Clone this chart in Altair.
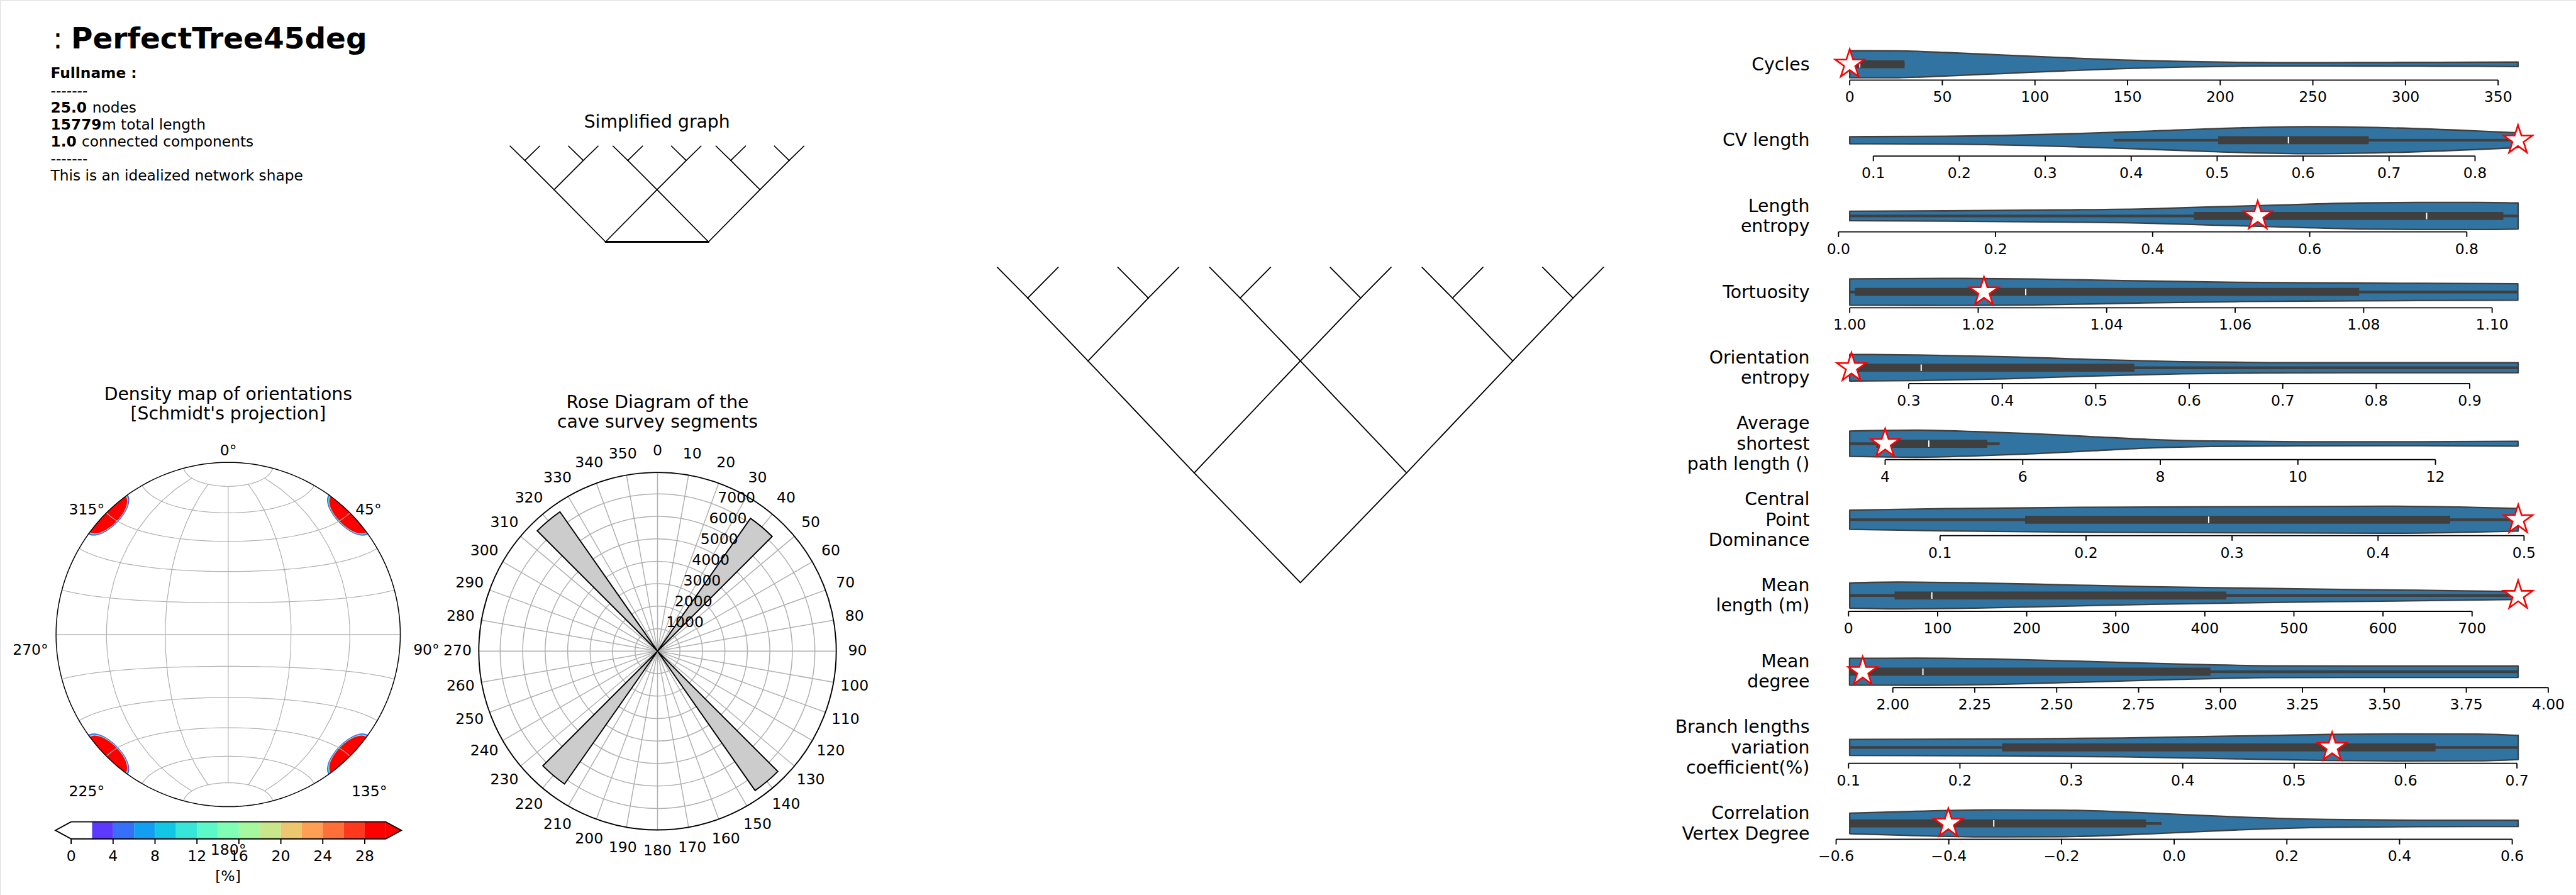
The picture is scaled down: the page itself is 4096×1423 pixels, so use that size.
import math
import altair as alt
import pandas as pd

FONT = "DejaVu Sans"
W, H = 4096, 1423

# ====================== values ======================
TITLE_PREFIX = ":"
TITLE_NAME = "PerfectTree45deg"
INFO_FULLNAME = "Fullname :"
INFO_SEPARATOR = "-------"
INFO_NODES = "25.0"
INFO_NODES_UNIT = "nodes"
INFO_LENGTH = "15779"
INFO_LENGTH_UNIT = "m total length"
INFO_COMPONENTS = "1.0"
INFO_COMPONENTS_UNIT = "connected components"
INFO_DESCRIPTION = "This is an idealized network shape"
SIMPLIFIED_TITLE = "Simplified graph"
DENSITY_TITLE = ["Density map of orientations", "[Schmidt's projection]"]
ROSE_TITLE = ["Rose Diagram of the", "cave survey segments"]

# network layout (node coordinates of the drawn graph)
NODE_ID = ["R", "A1", "A2", "B1", "B2", "B3",
           "C1", "C2", "C3", "C4", "C5", "C6",
           "L1", "L2", "L3", "L4", "L5", "L6", "L7", "L8", "L9", "L10", "L11", "L12"]
NODE_X = [0, -296, 296, -592, 0, 592,
          -760, -424, -168, 168, 424, 760,
          -845, -675, -509, -339, -253, -83, 83, 253, 339, 509, 675, 845]
NODE_Y = [0, 306, 306, 618, 618, 618,
          793, 793, 793, 793, 793, 793,
          879, 879, 879, 879, 879, 879, 879, 879, 879, 879, 879, 879]
EDGES = [("R", "A1"), ("R", "A2"),
         ("A1", "B1"), ("A1", "B2"), ("A2", "B2"), ("A2", "B3"),
         ("B1", "C1"), ("B1", "C2"), ("B2", "C3"), ("B2", "C4"), ("B3", "C5"), ("B3", "C6"),
         ("C1", "L1"), ("C1", "L2"), ("C2", "L3"), ("C2", "L4"), ("C3", "L5"), ("C3", "L6"),
         ("C4", "L7"), ("C4", "L8"), ("C5", "L9"), ("C5", "L10"), ("C6", "L11"), ("C6", "L12")]
SIMPLIFIED_BRIDGE = [("A1", "A2")]

# rose diagram
ROSE_BIN_FROM = [35, 135, 215, 315]
ROSE_BIN_TO = [45, 145, 225, 325]
ROSE_LENGTH = [7215, 7570, 7215, 7570]
ROSE_RMAX = 7954
ROSE_RINGS = [1000, 2000, 3000, 4000, 5000, 6000, 7000]
ROSE_ANGLES = [0, 10, 20, 30, 40, 50, 60, 70, 80, 90, 100, 110, 120, 130, 140, 150, 160, 170,
               180, 190, 200, 210, 220, 230, 240, 250, 260, 270, 280, 290, 300, 310, 320, 330, 340, 350]
ROSE_RLABEL_ANGLE = 22.5

# density map (Schmidt net)
AZIMUTH_LABELS = ["0°", "45°", "90°", "135°", "180°", "225°", "270°", "315°"]
BLOB_LON = [90, 90, -90, -90]
BLOB_LAT = [45, -45, -45, 45]
BLOB_RADII = [9.3, 9.05, 8.85, 8.65, 8.45]
BLOB_COLORS = ["#5b39fd", "#129ff1", "#37e6d8", "#c8e68a", "#ff0000"]
GRATICULE_STEP = [30, 15]
GRATICULE_LAT_LIMIT = 75.01
CBAR_EDGES = [0, 2, 4, 6, 8, 10, 12, 14, 16, 18, 20, 22, 24, 26, 28, 30]
CBAR_COLORS = ["#ffffff", "#5b39fd", "#376ff9", "#129ff1", "#12c7e6", "#37e6d8", "#5bf9c7",
               "#80ffb4", "#a4f99f", "#c8e68a", "#edc76f", "#ff9f54", "#ff6f39", "#ff391d", "#ff0000"]
CBAR_TICKS = [0, 4, 8, 12, 16, 20, 24, 28]
CBAR_EXTEND = 1.5
CBAR_LABEL = "[%]"

# violin panels
VIO_LABELS = [["Cycles"], ["CV length"], ["Length", "entropy"], ["Tortuosity"],
              ["Orientation", "entropy"], ["Average", "shortest", "path length ()"],
              ["Central", "Point", "Dominance"], ["Mean", "length (m)"], ["Mean", "degree"],
              ["Branch lengths", "variation", "coefficient(%)"], ["Correlation\u00a0", "Vertex Degree"]]
VIO_PROFILE_V = [
    [0, 26, 51.6, 83.5, 115, 147, 179, 211, 243, 275, 306.6, 338.5, 360.8],
    [0.0725, 0.184, 0.321, 0.424, 0.526, 0.608, 0.697, 0.80, 0.850],
    [0.0143, 0.136, 0.2865, 0.399, 0.474, 0.55, 0.662, 0.738, 0.813, 0.8654],
    [1.0, 1.0149, 1.0287, 1.0425, 1.0608, 1.0792, 1.1040],
    [0.2368, 0.3074, 0.4023, 0.4971, 0.5918, 0.6865, 0.7813, 0.9518],
    [3.485, 4.446, 5.305, 6.163, 7.021, 7.88, 8.738, 10.03, 11.74, 13.20],
    [0.0381, 0.1036, 0.1845, 0.2654, 0.3463, 0.4069, 0.4676, 0.4960],
    [1.3, 56.3, 142.5, 241.3, 340.7, 440, 539.3, 639, 751.7],
    [1.868, 2.07, 2.34, 2.61, 2.88, 3.15, 3.42, 3.908],
    [0.101, 0.2399, 0.3459, 0.4519, 0.5314, 0.595, 0.664, 0.7011],
    [-0.5759, -0.4585, -0.3223, -0.1965, -0.0393, 0.1179, 0.2751, 0.4323, 0.6105],
]
VIO_PROFILE_W = [
    [1.0, 0.99, 0.87, 0.68, 0.49, 0.32, 0.21, 0.14, 0.12, 0.13, 0.14, 0.15, 0.17],
    [0.26, 0.29, 0.46, 0.68, 0.91, 1.0, 0.92, 0.69, 0.55],
    [0.35, 0.38, 0.45, 0.54, 0.67, 0.79, 0.96, 1.0, 1.0, 0.96],
    [0.97, 1.0, 0.96, 0.84, 0.71, 0.66, 0.61],
    [0.98, 0.95, 0.82, 0.61, 0.45, 0.38, 0.37, 0.37],
    [0.94, 1.0, 0.9, 0.74, 0.52, 0.31, 0.2, 0.15, 0.15, 0.18],
    [0.71, 0.82, 0.91, 0.95, 0.98, 1.0, 0.91, 0.84],
    [0.93, 0.99, 0.93, 0.79, 0.65, 0.55, 0.46, 0.39, 0.29],
    [0.99, 1.0, 0.92, 0.75, 0.56, 0.44, 0.42, 0.42],
    [0.59, 0.63, 0.70, 0.85, 0.96, 1.0, 0.99, 0.89],
    [0.76, 0.9, 1.0, 0.98, 0.76, 0.47, 0.29, 0.24, 0.23],
]
VIO_Q1 = [0.0, 0.5012, 0.4526, 1.0008, 0.2444, 3.871, 0.1582, 51.7, 1.8685, 0.2378, -0.5759]
VIO_Q3 = [29.6, 0.6763, 0.8466, 1.0793, 0.5413, 5.485, 0.4494, 424.2, 2.9694, 0.6269, -0.0498]
VIO_MEDIAN = [5.4, 0.5829, 0.7489, 1.0274, 0.3133, 4.635, 0.2840, 93.5, 2.0919, 0.534, -0.3202]
VIO_WHISKER_LO = [0.0, 0.3796, 0.0143, 1.0, 0.2368, 3.485, 0.0381, 1.3, 1.8685, 0.101, -0.5759]
VIO_WHISKER_HI = [29.6, 0.850, 0.8654, 1.1040, 0.9518, 5.665, 0.4960, 751.7, 3.908, 0.7011, -0.0225]
VIO_NETWORK = [0.0, 0.850, 0.5338, 1.0209, 0.2387, 4.0, 0.4960, 751.7, 1.9081, 0.5341, -0.4009]
VIO_TICKS = [
    [0, 50, 100, 150, 200, 250, 300, 350],
    [0.1, 0.2, 0.3, 0.4, 0.5, 0.6, 0.7, 0.8],
    [0.0, 0.2, 0.4, 0.6, 0.8],
    [1.00, 1.02, 1.04, 1.06, 1.08, 1.10],
    [0.3, 0.4, 0.5, 0.6, 0.7, 0.8, 0.9],
    [4, 6, 8, 10, 12],
    [0.1, 0.2, 0.3, 0.4, 0.5],
    [0, 100, 200, 300, 400, 500, 600, 700],
    [2.00, 2.25, 2.50, 2.75, 3.00, 3.25, 3.50, 3.75, 4.00],
    [0.1, 0.2, 0.3, 0.4, 0.5, 0.6, 0.7],
    [-0.6, -0.4, -0.2, 0.0, 0.2, 0.4, 0.6],
]
VIO_FORMAT = ["d", ".1f", ".1f", ".2f", ".1f", "d", ".1f", "d", ".2f", ".1f", ".1f"]
# value at the left / right edge of the common violin plotting band
VIO_RANGE = [[-18.49, 389.5], [0.03268, 0.91197], [-0.02932, 0.93308], [0.99467, 1.11232],
             [0.20021, 1.00863], [2.98712, 13.97425], [0.014661, 0.532356], [-37.12, 811.36],
             [1.76396, 4.07027], [0.070318, 0.748763], [-0.63668, 0.70480]]

# ====================== layout & style ======================
TICK_FS = 23.5
LABEL_FS = 28.3
INFO_FS = 23.3
GRID = "#b0b0b0"
VIOLIN_FILL = "#3274a1"
VIOLIN_EDGE = "#3f3f3f"
BOX_COLOR = "#3f3f3f"
STAR_PATH = ("M0,-1L0.2245,-0.309L0.9511,-0.309L0.3633,0.118L0.5878,0.809L0,0.382"
             "L-0.5878,0.809L-0.3633,0.118L-0.9511,-0.309L-0.2245,-0.309Z")
STAR_SIZE = 2323

VIO_LEFT_PX, VIO_WIDTH_PX = 2886.7, 1201.8
VIO_ROW_Y = [102.2, 222.9, 343.4, 464.2, 584.7, 705.5, 826.4, 946.8, 1068.0, 1188.4, 1309.2]
VIO_HALF_PX = 21.5
AXIS_GAP = 25.2
TICK_LEN = 8.2
TICK_PAD = 7.8
VIO_LABEL_X = 2877.4

ONE = pd.DataFrame({"k": [0]})


def xdom(p0, v0, ppu):
    return [v0 - p0 / ppu, v0 + (W - p0) / ppu]


def ydom(p0, v0, ppu):
    return [v0 - (H - p0) / ppu, v0 + p0 / ppu]


def lin(domain):
    return alt.Scale(domain=domain, nice=False, zero=False)


def text(t, x, y, size, weight="normal", align="left", baseline="alphabetic", lh=None):
    kw = dict(text=t, fontSize=size, fontWeight=weight, align=align, baseline=baseline,
              font=FONT, color="black")
    if lh:
        kw["lineHeight"] = lh
    return alt.Chart(ONE).mark_text(**kw).encode(x=alt.value(x), y=alt.value(y))


layers = []

# ---------------- title & info block ----------------
layers += [
    text(TITLE_PREFIX, 84, 77.4, 47),
    text(TITLE_NAME, 113, 77.4, 47, weight="bold"),
    text(INFO_FULLNAME, 80.5, 124.3, INFO_FS, weight="bold"),
    text(INFO_SEPARATOR, 80.5, 151.5, INFO_FS),
    text(INFO_NODES, 80.5, 178.6, INFO_FS, weight="bold"),
    text(INFO_NODES_UNIT, 146.7, 178.6, INFO_FS),
    text(INFO_LENGTH, 80.5, 205.8, INFO_FS, weight="bold"),
    text(INFO_LENGTH_UNIT, 161.9, 205.8, INFO_FS),
    text(INFO_COMPONENTS, 80.5, 232.9, INFO_FS, weight="bold"),
    text(INFO_COMPONENTS_UNIT, 129.9, 232.9, INFO_FS),
    text(INFO_SEPARATOR, 80.5, 260.1, INFO_FS),
    text(INFO_DESCRIPTION, 80.5, 287.2, INFO_FS),
    text(SIMPLIFIED_TITLE, 1044.7, 202.6, LABEL_FS, align="center"),
]

# ---------------- graphs ----------------
pos = {n: (x, y) for n, x, y in zip(NODE_ID, NODE_X, NODE_Y)}


def edge_frame(edges):
    return pd.DataFrame({"x": [pos[a][0] for a, b in edges], "y": [pos[a][1] for a, b in edges],
                         "x2": [pos[b][0] for a, b in edges], "y2": [pos[b][1] for a, b in edges]})


def graph_layer(edges, xs, ys, width):
    return alt.Chart(edge_frame(edges)).mark_rule(color="black", strokeWidth=width, strokeCap="round").encode(
        x=alt.X("x:Q", scale=xs, axis=None), y=alt.Y("y:Q", scale=ys, axis=None), x2="x2:Q", y2="y2:Q")


SX = lin(xdom(1044.7, 0, 0.2765))
SY = lin(ydom(384.5, 306, 0.2657))
layers.append(alt.layer(
    graph_layer([e for e in EDGES if "R" not in e], SX, SY, 1.7),
    graph_layer(SIMPLIFIED_BRIDGE, SX, SY, 3.0)))

TX = lin(xdom(2067.7, 0, 0.5704))
TY = lin(ydom(926.3, 0, 0.5704))
layers.append(alt.layer(graph_layer(EDGES, TX, TY, 1.8)))

# ---------------- density map ----------------


def spherical_circle(lon0, lat0, radius_deg, n=120):
    la0, lo0, d = map(math.radians, (lat0, lon0, radius_deg))
    ring = []
    for k in range(n + 1):
        th = 2 * math.pi * k / n
        lat = math.asin(math.sin(la0) * math.cos(d) + math.cos(la0) * math.sin(d) * math.cos(th))
        lon = lo0 + math.atan2(math.sin(th) * math.sin(d) * math.cos(la0),
                               math.cos(d) - math.sin(la0) * math.sin(lat))
        ring.append([round(math.degrees(lon), 5), round(math.degrees(lat), 5)])
    ring[-1] = ring[0]
    return ring


features = []
for rad, col in zip(BLOB_RADII, BLOB_COLORS):
    for lon, lat in zip(BLOB_LON, BLOB_LAT):
        features.append({"type": "Feature", "properties": {"c": col},
                         "geometry": {"type": "Polygon", "coordinates": [spherical_circle(lon, lat, rad)]}})

PROJ = dict(type="azimuthalEqualArea", scale=273.7 / math.sqrt(2), translate=[362.8, 1008.9], clipAngle=90)
blobs = alt.Chart(alt.Data(values=features)).mark_geoshape(strokeWidth=0).encode(
    fill=alt.Fill("properties.c:N", scale=None)).project(**PROJ)
grat = alt.Chart(alt.graticule(extent=[[-180, -GRATICULE_LAT_LIMIT], [180, GRATICULE_LAT_LIMIT]],
                               step=GRATICULE_STEP)).mark_geoshape(
    filled=False, stroke=GRID, strokeWidth=1.2).project(**PROJ)
sphere = alt.Chart(alt.sphere()).mark_geoshape(filled=False, stroke="black", strokeWidth=1.5).project(**PROJ)
layers += [blobs, grat, sphere]

AZ_POS = [(363.1, 717.1), (586.0, 810.7), (678.0, 1034.1), (587.2, 1259.1),
          (363.1, 1352.1), (137.9, 1259.1), (48.5, 1034.1), (137.9, 810.7)]
for lab, (px, py) in zip(AZIMUTH_LABELS, AZ_POS):
    layers.append(text(lab, px, py, TICK_FS, align="center", baseline="middle"))
layers.append(text(DENSITY_TITLE, 362.8, 635.7, LABEL_FS, align="center", lh=31.6))

# ---------------- colour bar ----------------
CBX = lin(xdom(113.1, 0, 16.673))
CBY = lin(ydom(1333.8, 0, 27.2))
CB_TOP, CB_BOT = 1306.6, 1333.8
cb_df = pd.DataFrame({"lo": CBAR_EDGES[:-1], "hi": CBAR_EDGES[1:], "c": CBAR_COLORS})
lo_end, hi_end = CBAR_EDGES[0], CBAR_EDGES[-1]
tri_left = pd.DataFrame({"x": [lo_end - CBAR_EXTEND, lo_end], "yt": [0.5, 1], "yb": [0.5, 0]})
tri_right = pd.DataFrame({"x": [hi_end, hi_end + CBAR_EXTEND], "yt": [1, 0.5], "yb": [0, 0.5]})
outline = pd.DataFrame({"x": [lo_end, hi_end, hi_end + CBAR_EXTEND, hi_end, lo_end, lo_end - CBAR_EXTEND, lo_end],
                        "y": [1, 1, 0.5, 0, 0, 0.5, 1], "o": [0, 1, 2, 3, 4, 5, 6]})
cb_ticks = pd.DataFrame({"t": CBAR_TICKS})
layers.append(alt.layer(
    alt.Chart(cb_df).mark_rect(strokeWidth=0).encode(
        x=alt.X("lo:Q", scale=CBX, axis=None), x2="hi:Q",
        y=alt.value(CB_TOP), y2=alt.value(CB_BOT), fill=alt.Fill("c:N", scale=None)),
    alt.Chart(tri_left).mark_area(orient="vertical", fill=CBAR_COLORS[0]).encode(
        x=alt.X("x:Q", scale=CBX, axis=None), y=alt.Y("yt:Q", scale=CBY, axis=None), y2="yb:Q"),
    alt.Chart(tri_right).mark_area(orient="vertical", fill=CBAR_COLORS[-1]).encode(
        x=alt.X("x:Q", scale=CBX, axis=None), y=alt.Y("yt:Q", scale=CBY, axis=None), y2="yb:Q"),
    alt.Chart(outline).mark_line(color="black", strokeWidth=1.9, strokeJoin="miter").encode(
        x=alt.X("x:Q", scale=CBX, axis=None), y=alt.Y("y:Q", scale=CBY, axis=None), order="o:Q"),
    alt.Chart(cb_ticks).mark_rule(color="black", strokeWidth=1.9).encode(
        x=alt.X("t:Q", scale=CBX, axis=None), y=alt.value(CB_BOT), y2=alt.value(CB_BOT + TICK_LEN)),
    alt.Chart(cb_ticks).mark_text(font=FONT, fontSize=TICK_FS, baseline="top", align="center", color="black").encode(
        x=alt.X("t:Q", scale=CBX, axis=None), y=alt.value(CB_BOT + TICK_LEN + 8.4),
        text=alt.Text("t:Q", format="d")),
))
layers.append(text(CBAR_LABEL, 362.5, 1401.0, TICK_FS, align="center"))

# ---------------- rose diagram ----------------
RCX, RCY = alt.value(1045.5), alt.value(1035.3)
TH = alt.Scale(domain=[0, 360], range=[0, 2 * math.pi])
RS = alt.Scale(type="linear", domain=[0, ROSE_RMAX], range=[0, 284.2], zero=True, nice=False)
ring_df = pd.DataFrame({"r": ROSE_RINGS, "t0": 0, "t1": 360})
outer_df = pd.DataFrame({"r": [ROSE_RMAX], "t0": [0], "t1": [360]})
spoke_df = pd.DataFrame({"a": ROSE_ANGLES, "rm": ROSE_RMAX, "r0": 0})
bar_df = pd.DataFrame({"a0": ROSE_BIN_FROM, "a1": ROSE_BIN_TO, "len": ROSE_LENGTH, "z": 0})
alab_df = pd.DataFrame({"a": ROSE_ANGLES, "lab": [str(a) for a in ROSE_ANGLES]})
rlab_df = pd.DataFrame({"r": ROSE_RINGS, "a": ROSE_RLABEL_ANGLE, "lab": [str(r) for r in ROSE_RINGS]})


def ring_layer(df, color, width):
    return alt.Chart(df).mark_arc(filled=False, stroke=color, strokeWidth=width).encode(
        theta=alt.Theta("t0:Q", scale=TH, stack=False), theta2="t1:Q",
        radius=alt.Radius("r:Q", scale=RS), radius2="r:Q", x=RCX, y=RCY)


layers.append(alt.layer(
    ring_layer(ring_df, GRID, 1.5),
    alt.Chart(spoke_df).mark_arc(filled=False, stroke=GRID, strokeWidth=1.5).encode(
        theta=alt.Theta("a:Q", scale=TH, stack=False), theta2="a:Q",
        radius=alt.Radius("rm:Q", scale=RS), radius2="r0:Q", x=RCX, y=RCY),
    alt.Chart(bar_df).mark_arc(fill="#cccccc", stroke="black", strokeWidth=1.9, strokeJoin="miter").encode(
        theta=alt.Theta("a0:Q", scale=TH, stack=False), theta2="a1:Q",
        radius=alt.Radius("len:Q", scale=RS), radius2="z:Q", x=RCX, y=RCY),
    ring_layer(outer_df, "black", 1.9),
    alt.Chart(alab_df).mark_text(font=FONT, fontSize=TICK_FS, align="center", baseline="middle", color="black").encode(
        theta=alt.Theta("a:Q", scale=TH, stack=False), radius=alt.value(318), text="lab:N", x=RCX, y=RCY),
    alt.Chart(rlab_df).mark_text(font=FONT, fontSize=TICK_FS, align="left", baseline="bottom", color="black").encode(
        theta=alt.Theta("a:Q", scale=TH, stack=False), radius=alt.Radius("r:Q", scale=RS),
        text="lab:N", x=RCX, y=RCY),
))
layers.append(text(ROSE_TITLE, 1045.5, 648.8, LABEL_FS, align="center", lh=31.6))

# ---------------- violin panels ----------------


def violin(i):
    c = VIO_ROW_Y[i]
    lo, hi = VIO_RANGE[i]
    xs = lin(xdom(VIO_LEFT_PX, lo, VIO_WIDTH_PX / (hi - lo)))
    ys = lin(ydom(c, 0, VIO_HALF_PX))
    prof = pd.DataFrame({"v": VIO_PROFILE_V[i], "w": VIO_PROFILE_W[i]})
    prof["nw"] = -prof["w"]
    stats = pd.DataFrame({"q1": [VIO_Q1[i]], "q3": [VIO_Q3[i]], "med": [VIO_MEDIAN[i]],
                          "wlo": [VIO_WHISKER_LO[i]], "whi": [VIO_WHISKER_HI[i]], "star": [VIO_NETWORK[i]]})
    ticks = pd.DataFrame({"t": VIO_TICKS[i]})
    spine = pd.DataFrame({"t0": [VIO_TICKS[i][0]], "t1": [VIO_TICKS[i][-1]]})
    ya = c + AXIS_GAP

    def X(f):
        return alt.X(f, scale=xs, axis=None)

    return alt.layer(
        alt.Chart(prof).mark_area(orient="vertical", interpolate="monotone", fill=VIOLIN_FILL,
                                  stroke=VIOLIN_EDGE, strokeWidth=2.3, strokeJoin="round").encode(
            x=X("v:Q"), y=alt.Y("w:Q", scale=ys, axis=None), y2="nw:Q"),
        alt.Chart(stats).mark_rule(color=BOX_COLOR, strokeWidth=4.4).encode(
            x=X("wlo:Q"), x2="whi:Q", y=alt.value(c)),
        alt.Chart(stats).mark_rect(color=BOX_COLOR).encode(
            x=X("q1:Q"), x2="q3:Q", y=alt.value(c - 6.4), y2=alt.value(c + 6.4)),
        alt.Chart(stats).mark_rule(color="white", strokeWidth=2).encode(
            x=X("med:Q"), y=alt.value(c - 5.2), y2=alt.value(c + 5.2)),
        alt.Chart(spine).mark_rule(color="black", strokeWidth=1.9).encode(
            x=X("t0:Q"), x2="t1:Q", y=alt.value(ya)),
        alt.Chart(ticks).mark_rule(color="black", strokeWidth=1.9).encode(
            x=X("t:Q"), y=alt.value(ya), y2=alt.value(ya + TICK_LEN)),
        alt.Chart(ticks).mark_text(font=FONT, fontSize=TICK_FS, baseline="top", align="center", color="black").encode(
            x=X("t:Q"), y=alt.value(ya + TICK_LEN + TICK_PAD), text=alt.Text("t:Q", format=VIO_FORMAT[i])),
        alt.Chart(stats).mark_point(shape=STAR_PATH, size=STAR_SIZE, filled=True, fill="white",
                                    stroke="#ff0000", strokeWidth=2.6, opacity=1).encode(
            x=X("star:Q"), y=alt.value(c)),
    )


for i in range(len(VIO_LABELS)):
    layers.append(violin(i))
    n = len(VIO_LABELS[i])
    layers.append(text(VIO_LABELS[i], VIO_LABEL_X, VIO_ROW_Y[i] + 9.3 - (n - 1) * 16.2,
                       LABEL_FS, align="right", lh=32.4))

chart = alt.layer(*layers).resolve_scale(x="independent", y="independent").properties(
    width=W, height=H, padding=0
).configure_view(strokeWidth=0).configure(font=FONT)

chart.save("out.html", embed_options={"renderer": "svg", "actions": False})
